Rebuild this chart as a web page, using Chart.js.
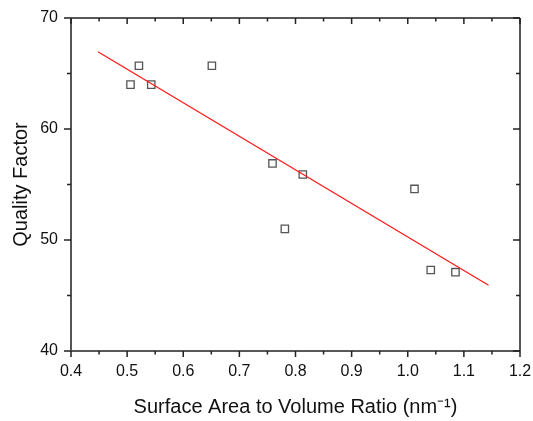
<!DOCTYPE html>
<html>
<head>
<meta charset="utf-8">
<script src="https://cdn.jsdelivr.net/npm/chart.js@4"></script>
<style>
  html, body { margin: 0; padding: 0; background: #fff; }
  #wrap { width: 533px; height: 421px; }
</style>
</head>
<body>
<div id="wrap"><canvas id="qfChart" width="533" height="421"></canvas></div>
<script>
// measured points
let ratioX = [0.506, 0.521, 0.543, 0.651, 0.759, 0.781, 0.813, 1.012, 1.041, 1.085];
let qualityY = [64.0, 65.7, 64.0, 65.7, 56.9, 51.0, 55.9, 54.6, 47.3, 47.1];

// linear fit line (end points)
let fitX = [0.448, 1.144];
let fitY = [66.96, 45.92];

let xMajor = [0.4, 0.5, 0.6, 0.7, 0.8, 0.9, 1.0, 1.1, 1.2];
let xMinor = [0.45, 0.55, 0.65, 0.75, 0.85, 0.95, 1.05, 1.15];
let yMajor = [40, 50, 60, 70];
let yMinor = [45, 55, 65];

const FONT = "'Liberation Sans', Arial, sans-serif";

// frame + origin style ticks (outward on left/bottom, inward on top/right)
const framePlugin = {
  id: "frame",
  afterDraw(chart) {
    const ctx = chart.ctx;
    const a = chart.chartArea;
    const xs = chart.scales.x, ys = chart.scales.y;
    ctx.save();
    ctx.lineCap = "butt";

    ctx.strokeStyle = "#222";
    ctx.lineWidth = 1.5;
    ctx.beginPath();
    ctx.moveTo(a.left, a.top); ctx.lineTo(a.right, a.top);
    ctx.moveTo(a.right, a.top); ctx.lineTo(a.right, a.bottom);
    ctx.moveTo(a.left, a.bottom); ctx.lineTo(a.right, a.bottom);
    ctx.stroke();

    ctx.strokeStyle = "#555";
    ctx.lineWidth = 2;
    ctx.beginPath();
    ctx.moveTo(a.left, a.top); ctx.lineTo(a.left, a.bottom);
    ctx.stroke();

    ctx.strokeStyle = "#222";
    ctx.lineWidth = 1.5;
    ctx.beginPath();
    xMajor.forEach((v) => {
      let px = xs.getPixelForValue(v);
      ctx.moveTo(px, a.bottom); ctx.lineTo(px, a.bottom + 6);
      ctx.moveTo(px, a.top); ctx.lineTo(px, a.top + 6);
    });
    xMinor.forEach((v) => {
      let px = xs.getPixelForValue(v);
      ctx.moveTo(px, a.bottom); ctx.lineTo(px, a.bottom + 3.5);
      ctx.moveTo(px, a.top); ctx.lineTo(px, a.top + 3.5);
    });
    yMajor.forEach((v) => {
      let py = ys.getPixelForValue(v);
      ctx.moveTo(a.left - 7, py); ctx.lineTo(a.left, py);
      ctx.moveTo(a.right - 7, py); ctx.lineTo(a.right, py);
    });
    yMinor.forEach((v) => {
      let py = ys.getPixelForValue(v);
      ctx.moveTo(a.left - 4, py); ctx.lineTo(a.left, py);
      ctx.moveTo(a.right - 4, py); ctx.lineTo(a.right, py);
    });
    ctx.stroke();
    ctx.restore();
  },
};

const ctx = document.getElementById("qfChart").getContext("2d");
new Chart(ctx, {
  type: "scatter",
  data: {
    datasets: [
      {
        label: "Fit",
        data: fitX.map((x, i) => ({ x: x, y: fitY[i] })),
        showLine: true,
        borderColor: "#ff1a1a",
        borderWidth: 1.3,
        pointRadius: 0,
        fill: false,
      },
      {
        label: "Data",
        data: ratioX.map((x, i) => ({ x: x, y: qualityY[i] })),
        pointStyle: "rect",
        pointRadius: 5.2,
        pointBorderWidth: 1.3,
        pointBorderColor: "#555",
        pointBackgroundColor: "rgba(255,255,255,0)",
      },
    ],
  },
  plugins: [framePlugin],
  options: {
    responsive: false,
    animation: false,
    layout: { padding: { top: 18, right: 13, left: 0, bottom: 0 } },
    plugins: {
      legend: { display: false },
      tooltip: { enabled: false },
    },
    scales: {
      x: {
        type: "linear",
        min: 0.4,
        max: 1.2,
        afterBuildTicks: (s) => { s.ticks = xMajor.map((v) => ({ value: v })); },
        afterFit: (s) => {
          s.height = 70;
          s.paddingLeft = 0;
          s.paddingRight = 0;
        },
        grid: { display: false, drawTicks: false },
        border: { display: false },
        ticks: {
          padding: 11,
          color: "#111",
          font: { family: FONT, size: 16 },
          callback: (v) => v.toFixed(1),
        },
        title: {
          display: true,
          text: "Surface Area to Volume Ratio (nm\u207B\u00B9)",
          color: "#111",
          font: { family: FONT, size: 20 },
          padding: { top: 0, bottom: 2 },
        },
      },
      y: {
        min: 40,
        max: 70,
        afterBuildTicks: (s) => { s.ticks = yMajor.map((v) => ({ value: v })); },
        afterFit: (s) => {
          s.width = 71;
          s.paddingTop = 0;
          s.paddingBottom = 0;
        },
        grid: { display: false, drawTicks: false },
        border: { display: false },
        ticks: {
          padding: 13,
          color: "#111",
          font: { family: FONT, size: 16 },
        },
        title: {
          display: true,
          text: "Quality Factor",
          color: "#111",
          font: { family: FONT, size: 20 },
          padding: { top: 9, bottom: 0 },
        },
      },
    },
  },
});
</script>
</body>
</html>
